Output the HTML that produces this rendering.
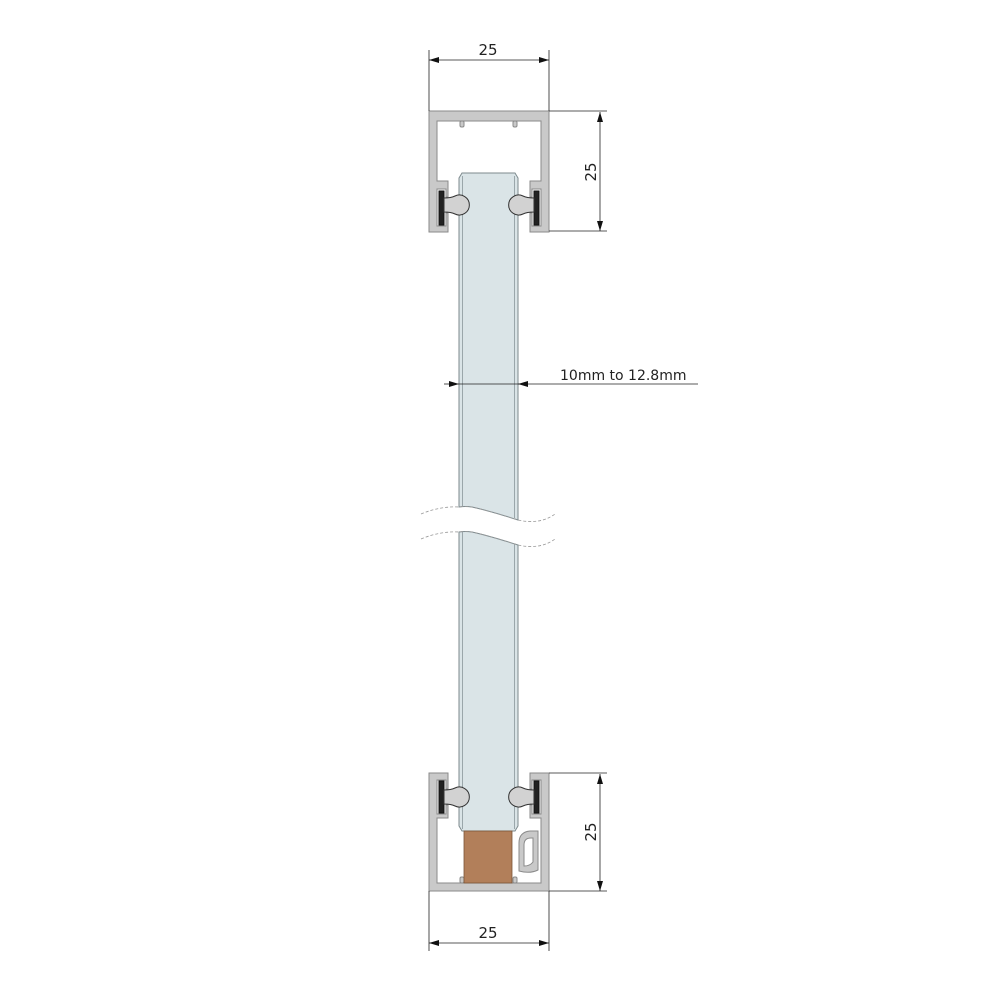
<!DOCTYPE html>
<html><head><meta charset="utf-8"><style>
html,body{margin:0;padding:0;background:#fff;}
svg{display:block;}
text{font-family:"DejaVu Sans","Liberation Sans",sans-serif;fill:#222;}
</style></head><body>
<svg width="1000" height="1000" viewBox="0 0 1000 1000" xmlns="http://www.w3.org/2000/svg">
<defs>
<marker id="ar" viewBox="0 0 10 6" refX="10" refY="3" markerWidth="10" markerHeight="6" orient="auto-start-reverse" markerUnits="userSpaceOnUse">
<path d="M0,0 L10,3 L0,6 Z" fill="#111"/></marker>
</defs>

<!-- glass -->
<g>
<path d="M459,178 L462,173 H515 L518,178 V520 Q490,511 472,507 Q465,506 459,507 Z" fill="#dae4e7" stroke="#7d8a8e" stroke-width="1"/>
<path d="M459,532 Q465,531 472,532 Q490,536 518,545 V826 L515,831 H462 L459,826 Z" fill="#dae4e7" stroke="#7d8a8e" stroke-width="1"/>
<line x1="462.5" y1="176" x2="462.5" y2="506" stroke="#9aa6aa"/>
<line x1="514.5" y1="176" x2="514.5" y2="518" stroke="#9aa6aa"/>
<line x1="462.5" y1="532" x2="462.5" y2="829" stroke="#9aa6aa"/>
<line x1="514.5" y1="544" x2="514.5" y2="829" stroke="#9aa6aa"/>
<path d="M421,514 Q440,506 459,507 Q465,506 472,507 Q490,511 518,520 Q540,525 555,514" fill="none" stroke="#999" stroke-dasharray="3,2" stroke-width="0.8"/>
<path d="M421,539 Q440,531 459,532 Q465,531 472,532 Q490,536 518,545 Q540,550 555,539" fill="none" stroke="#999" stroke-dasharray="3,2" stroke-width="0.8"/>
</g>

<!-- top profile -->
<g stroke="#8a8a8a" stroke-width="1">
<path d="M429,111 H549 V232 H530 V181 H541 V121 H437 V181 H448 V232 H429 Z" fill="#c9c9c9"/>
<rect x="460" y="121" width="4" height="6" rx="1.5" fill="#c9c9c9"/>
<rect x="513" y="121" width="4" height="6" rx="1.5" fill="#c9c9c9"/>
<path d="M437,189 H446 V197 H448 V213 H446 V226 H437 Z" fill="#fff"/>
<rect x="439" y="191" width="5" height="34" fill="#222" stroke="#111"/>
<path d="M444,198 Q451,198 455,196 A10,10 0 1 1 455,214 Q451,212 444,212 Z" fill="#d2d2d2" stroke="#333"/>
<path d="M541,189 H532 V197 H530 V213 H532 V226 H541 Z" fill="#fff"/>
<rect x="534" y="191" width="5" height="34" fill="#222" stroke="#111"/>
<path d="M534,198 Q527,198 523,196 A10,10 0 1 0 523,214 Q527,212 534,212 Z" fill="#d2d2d2" stroke="#333"/>
</g>

<!-- bottom profile -->
<g stroke="#8a8a8a" stroke-width="1">
<path d="M429,773 H448 V818 H437 V883 H541 V818 H530 V773 H549 V891 H429 Z" fill="#c9c9c9"/>
<rect x="460" y="877" width="4" height="6" rx="1.5" fill="#c9c9c9"/>
<rect x="513" y="877" width="4" height="6" rx="1.5" fill="#c9c9c9"/>
<path d="M437,780 H446 V789 H448 V805 H446 V814 H437 Z" fill="#fff"/>
<rect x="439" y="781" width="5" height="32" fill="#222" stroke="#111"/>
<path d="M444,790 Q451,790 455,788 A10,10 0 1 1 455,806 Q451,804 444,804 Z" fill="#d2d2d2" stroke="#333"/>
<path d="M541,780 H532 V789 H530 V805 H532 V814 H541 Z" fill="#fff"/>
<rect x="534" y="781" width="5" height="32" fill="#222" stroke="#111"/>
<path d="M534,790 Q527,790 523,788 A10,10 0 1 0 523,806 Q527,804 534,804 Z" fill="#d2d2d2" stroke="#333"/>
<!-- clip -->
<path d="M519,871 V843 Q519,832 530,831 H538 V870 Q530,874 519,871 Z" fill="#c9c9c9"/>
<path d="M524,866 V845 Q524,838 531,838 H533 V862 Q530,866 524,866 Z" fill="#fff"/>
</g>
<rect x="464" y="831" width="48" height="52" fill="#b27f5a" stroke="#7a5538" stroke-width="0.8"/>

<!-- dimensions -->
<g stroke="#222" stroke-width="0.8" fill="none">
<line x1="429" y1="50" x2="429" y2="111"/>
<line x1="549" y1="50" x2="549" y2="111"/>
<line x1="429" y1="60" x2="549" y2="60" marker-start="url(#ar)" marker-end="url(#ar)"/>
<line x1="549" y1="111" x2="607" y2="111"/>
<line x1="549" y1="231" x2="607" y2="231"/>
<line x1="600" y1="112" x2="600" y2="231" marker-start="url(#ar)" marker-end="url(#ar)"/>
<line x1="549" y1="773" x2="607" y2="773"/>
<line x1="549" y1="891" x2="607" y2="891"/>
<line x1="600" y1="774" x2="600" y2="891" marker-start="url(#ar)" marker-end="url(#ar)"/>
<line x1="429" y1="891" x2="429" y2="951"/>
<line x1="549" y1="891" x2="549" y2="951"/>
<line x1="429" y1="943" x2="549" y2="943" marker-start="url(#ar)" marker-end="url(#ar)"/>
<line x1="444" y1="384" x2="459" y2="384" marker-end="url(#ar)"/>
<line x1="459" y1="384" x2="698" y2="384"/>
<line x1="528" y1="384" x2="518" y2="384" marker-end="url(#ar)"/>
</g>
<text x="488" y="55" font-size="15" text-anchor="middle">25</text>
<text x="488" y="938" font-size="15" text-anchor="middle">25</text>
<text transform="translate(596,172) rotate(-90)" font-size="15" text-anchor="middle">25</text>
<text transform="translate(596,832) rotate(-90)" font-size="15" text-anchor="middle">25</text>
<text x="560" y="380" font-size="14">10mm to 12.8mm</text>
</svg>
</body></html>
